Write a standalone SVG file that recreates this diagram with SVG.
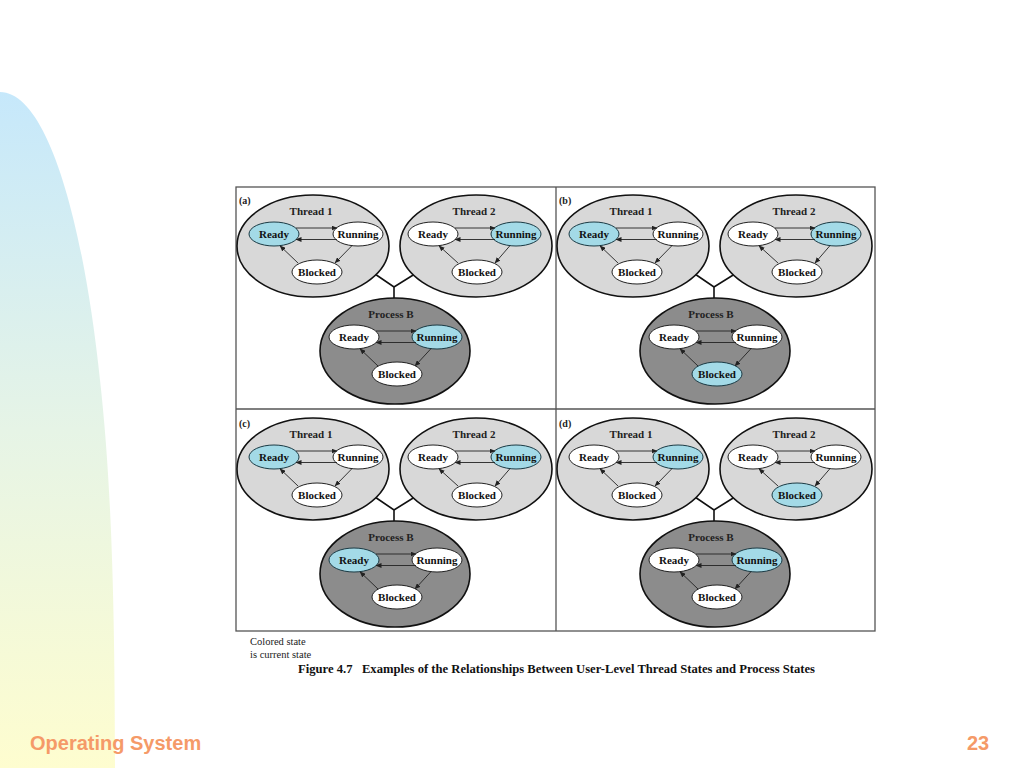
<svg xmlns="http://www.w3.org/2000/svg" width="1024" height="768" viewBox="0 0 1024 768">
<defs>
<linearGradient id="bg" x1="0" y1="0" x2="0" y2="1">
<stop offset="0" stop-color="#c6e8fb"/>
<stop offset="0.5" stop-color="#e6f4e6"/>
<stop offset="1" stop-color="#fefdcf"/>
</linearGradient>
<marker id="ah" markerWidth="6" markerHeight="5" refX="5.5" refY="2.5" orient="auto" markerUnits="userSpaceOnUse">
<path d="M0,0 L6,2.5 L0,5 Z" fill="#222"/>
</marker>
</defs>
<style>
.thread{fill:#d8d8d8;stroke:#111;stroke-width:1.6}
.proc{fill:#8c8c8c;stroke:#111;stroke-width:1.6}
.st{fill:#ffffff;stroke:#222;stroke-width:1}
.cur{fill:#a3dae7;stroke:#1a3a44;stroke-width:1}
.lbl{font-family:"Liberation Serif","Times New Roman",serif;font-weight:bold;font-size:11px;fill:#111;text-anchor:middle}
.ttl{font-family:"Liberation Serif","Times New Roman",serif;font-weight:bold;font-size:11px;fill:#222;text-anchor:middle}
.pl{font-family:"Liberation Serif","Times New Roman",serif;font-weight:bold;font-size:10px;fill:#222}
.arr{stroke:#222;stroke-width:0.9;fill:none;marker-end:url(#ah)}
.tie{stroke:#111;stroke-width:1.6;fill:none}
.frame{fill:none;stroke:#555;stroke-width:1.3}
.cap{font-family:"Liberation Serif","Times New Roman",serif;font-size:10.5px;fill:#222}
.fig{font-family:"Liberation Serif","Times New Roman",serif;font-weight:bold;font-size:11.5px;fill:#111}
.foot{font-family:"Liberation Sans",Arial,sans-serif;font-weight:bold;font-size:20px;fill:#f59a68}
</style>
<rect width="1024" height="768" fill="#ffffff"/>
<path d="M0,92 C45,92 82,210 100,380 C110,470 115,580 115,768 L0,768 Z" fill="url(#bg)"/>

<g id="frame">
<rect class="frame" x="236" y="187" width="639" height="444"/>
<line class="frame" x1="556" y1="187" x2="556" y2="631"/>
<line class="frame" x1="236" y1="409" x2="875" y2="409"/>
</g>

<!-- Panel (a) -->
<g id="panel-a">
<g id="a-connectors">
<path class="tie" d="M372,272 L394,287 L418,272 M394,287 L394,300"/>
</g>
<g id="a-thread1"><ellipse class="thread" cx="313" cy="246" rx="76" ry="51"/><text class="ttl" x="311" y="215">Thread 1</text></g>
<g id="a-thread2"><ellipse class="thread" cx="476" cy="246" rx="76" ry="51"/><text class="ttl" x="474" y="215">Thread 2</text></g>
<g id="a-process"><ellipse class="proc" cx="395" cy="351" rx="75" ry="53"/><text class="ttl" x="391" y="318">Process B</text></g>
<text class="pl" x="239" y="204">(a)</text>
<g id="a-t1-ready"><ellipse class="cur" cx="274" cy="234" rx="25" ry="12"/><text class="lbl" x="274" y="237.5">Ready</text></g>
<g id="a-t1-running"><ellipse class="st" cx="358" cy="234" rx="25" ry="12"/><text class="lbl" x="358" y="237.5">Running</text></g>
<g id="a-t1-blocked"><ellipse class="st" cx="317" cy="272" rx="25" ry="12"/><text class="lbl" x="317" y="275.5">Blocked</text></g>
<g id="a-t2-ready"><ellipse class="st" cx="433" cy="234" rx="25" ry="12"/><text class="lbl" x="433" y="237.5">Ready</text></g>
<g id="a-t2-running"><ellipse class="cur" cx="516" cy="234" rx="25" ry="12"/><text class="lbl" x="516" y="237.5">Running</text></g>
<g id="a-t2-blocked"><ellipse class="st" cx="477" cy="272" rx="25" ry="12"/><text class="lbl" x="477" y="275.5">Blocked</text></g>
<g id="a-p-ready"><ellipse class="st" cx="354" cy="337" rx="25" ry="12"/><text class="lbl" x="354" y="340.5">Ready</text></g>
<g id="a-p-running"><ellipse class="cur" cx="437" cy="337" rx="25" ry="12"/><text class="lbl" x="437" y="340.5">Running</text></g>
<g id="a-p-blocked"><ellipse class="st" cx="397" cy="374" rx="25" ry="12"/><text class="lbl" x="397" y="377.5">Blocked</text></g>
<g id="a-arrows">
<line class="arr" x1="296" y1="228" x2="337" y2="228"/>
<line class="arr" x1="337" y1="239.5" x2="296" y2="239.5"/>
<line class="arr" x1="352" y1="245.6" x2="335" y2="263"/>
<line class="arr" x1="298" y1="263" x2="280" y2="245.8"/>
<line class="arr" x1="455" y1="228" x2="495" y2="228"/>
<line class="arr" x1="495" y1="239.5" x2="455" y2="239.5"/>
<line class="arr" x1="510" y1="245.6" x2="495" y2="263"/>
<line class="arr" x1="458" y1="263" x2="439" y2="245.8"/>
<line class="arr" x1="376" y1="331" x2="416" y2="331"/>
<line class="arr" x1="416" y1="342.5" x2="376" y2="342.5"/>
<line class="arr" x1="431" y1="348.6" x2="415" y2="366"/>
<line class="arr" x1="378" y1="366" x2="360" y2="348.8"/>
</g>
</g>

<!-- Panel (b) -->
<g id="panel-b" transform="translate(320,0)">
<g id="b-connectors">
<path class="tie" d="M372,272 L394,287 L418,272 M394,287 L394,300"/>
</g>
<g id="b-thread1"><ellipse class="thread" cx="313" cy="246" rx="76" ry="51"/><text class="ttl" x="311" y="215">Thread 1</text></g>
<g id="b-thread2"><ellipse class="thread" cx="476" cy="246" rx="76" ry="51"/><text class="ttl" x="474" y="215">Thread 2</text></g>
<g id="b-process"><ellipse class="proc" cx="395" cy="351" rx="75" ry="53"/><text class="ttl" x="391" y="318">Process B</text></g>
<text class="pl" x="239" y="204">(b)</text>
<g id="b-t1-ready"><ellipse class="cur" cx="274" cy="234" rx="25" ry="12"/><text class="lbl" x="274" y="237.5">Ready</text></g>
<g id="b-t1-running"><ellipse class="st" cx="358" cy="234" rx="25" ry="12"/><text class="lbl" x="358" y="237.5">Running</text></g>
<g id="b-t1-blocked"><ellipse class="st" cx="317" cy="272" rx="25" ry="12"/><text class="lbl" x="317" y="275.5">Blocked</text></g>
<g id="b-t2-ready"><ellipse class="st" cx="433" cy="234" rx="25" ry="12"/><text class="lbl" x="433" y="237.5">Ready</text></g>
<g id="b-t2-running"><ellipse class="cur" cx="516" cy="234" rx="25" ry="12"/><text class="lbl" x="516" y="237.5">Running</text></g>
<g id="b-t2-blocked"><ellipse class="st" cx="477" cy="272" rx="25" ry="12"/><text class="lbl" x="477" y="275.5">Blocked</text></g>
<g id="b-p-ready"><ellipse class="st" cx="354" cy="337" rx="25" ry="12"/><text class="lbl" x="354" y="340.5">Ready</text></g>
<g id="b-p-running"><ellipse class="st" cx="437" cy="337" rx="25" ry="12"/><text class="lbl" x="437" y="340.5">Running</text></g>
<g id="b-p-blocked"><ellipse class="cur" cx="397" cy="374" rx="25" ry="12"/><text class="lbl" x="397" y="377.5">Blocked</text></g>
<g id="b-arrows">
<line class="arr" x1="296" y1="228" x2="337" y2="228"/>
<line class="arr" x1="337" y1="239.5" x2="296" y2="239.5"/>
<line class="arr" x1="352" y1="245.6" x2="335" y2="263"/>
<line class="arr" x1="298" y1="263" x2="280" y2="245.8"/>
<line class="arr" x1="455" y1="228" x2="495" y2="228"/>
<line class="arr" x1="495" y1="239.5" x2="455" y2="239.5"/>
<line class="arr" x1="510" y1="245.6" x2="495" y2="263"/>
<line class="arr" x1="458" y1="263" x2="439" y2="245.8"/>
<line class="arr" x1="376" y1="331" x2="416" y2="331"/>
<line class="arr" x1="416" y1="342.5" x2="376" y2="342.5"/>
<line class="arr" x1="431" y1="348.6" x2="415" y2="366"/>
<line class="arr" x1="378" y1="366" x2="360" y2="348.8"/>
</g>
</g>

<!-- Panel (c) -->
<g id="panel-c" transform="translate(0,223)">
<g id="c-connectors">
<path class="tie" d="M372,272 L394,287 L418,272 M394,287 L394,300"/>
</g>
<g id="c-thread1"><ellipse class="thread" cx="313" cy="246" rx="76" ry="51"/><text class="ttl" x="311" y="215">Thread 1</text></g>
<g id="c-thread2"><ellipse class="thread" cx="476" cy="246" rx="76" ry="51"/><text class="ttl" x="474" y="215">Thread 2</text></g>
<g id="c-process"><ellipse class="proc" cx="395" cy="351" rx="75" ry="53"/><text class="ttl" x="391" y="318">Process B</text></g>
<text class="pl" x="239" y="204">(c)</text>
<g id="c-t1-ready"><ellipse class="cur" cx="274" cy="234" rx="25" ry="12"/><text class="lbl" x="274" y="237.5">Ready</text></g>
<g id="c-t1-running"><ellipse class="st" cx="358" cy="234" rx="25" ry="12"/><text class="lbl" x="358" y="237.5">Running</text></g>
<g id="c-t1-blocked"><ellipse class="st" cx="317" cy="272" rx="25" ry="12"/><text class="lbl" x="317" y="275.5">Blocked</text></g>
<g id="c-t2-ready"><ellipse class="st" cx="433" cy="234" rx="25" ry="12"/><text class="lbl" x="433" y="237.5">Ready</text></g>
<g id="c-t2-running"><ellipse class="cur" cx="516" cy="234" rx="25" ry="12"/><text class="lbl" x="516" y="237.5">Running</text></g>
<g id="c-t2-blocked"><ellipse class="st" cx="477" cy="272" rx="25" ry="12"/><text class="lbl" x="477" y="275.5">Blocked</text></g>
<g id="c-p-ready"><ellipse class="cur" cx="354" cy="337" rx="25" ry="12"/><text class="lbl" x="354" y="340.5">Ready</text></g>
<g id="c-p-running"><ellipse class="st" cx="437" cy="337" rx="25" ry="12"/><text class="lbl" x="437" y="340.5">Running</text></g>
<g id="c-p-blocked"><ellipse class="st" cx="397" cy="374" rx="25" ry="12"/><text class="lbl" x="397" y="377.5">Blocked</text></g>
<g id="c-arrows">
<line class="arr" x1="296" y1="228" x2="337" y2="228"/>
<line class="arr" x1="337" y1="239.5" x2="296" y2="239.5"/>
<line class="arr" x1="352" y1="245.6" x2="335" y2="263"/>
<line class="arr" x1="298" y1="263" x2="280" y2="245.8"/>
<line class="arr" x1="455" y1="228" x2="495" y2="228"/>
<line class="arr" x1="495" y1="239.5" x2="455" y2="239.5"/>
<line class="arr" x1="510" y1="245.6" x2="495" y2="263"/>
<line class="arr" x1="458" y1="263" x2="439" y2="245.8"/>
<line class="arr" x1="376" y1="331" x2="416" y2="331"/>
<line class="arr" x1="416" y1="342.5" x2="376" y2="342.5"/>
<line class="arr" x1="431" y1="348.6" x2="415" y2="366"/>
<line class="arr" x1="378" y1="366" x2="360" y2="348.8"/>
</g>
</g>

<!-- Panel (d) -->
<g id="panel-d" transform="translate(320,223)">
<g id="d-connectors">
<path class="tie" d="M372,272 L394,287 L418,272 M394,287 L394,300"/>
</g>
<g id="d-thread1"><ellipse class="thread" cx="313" cy="246" rx="76" ry="51"/><text class="ttl" x="311" y="215">Thread 1</text></g>
<g id="d-thread2"><ellipse class="thread" cx="476" cy="246" rx="76" ry="51"/><text class="ttl" x="474" y="215">Thread 2</text></g>
<g id="d-process"><ellipse class="proc" cx="395" cy="351" rx="75" ry="53"/><text class="ttl" x="391" y="318">Process B</text></g>
<text class="pl" x="239" y="204">(d)</text>
<g id="d-t1-ready"><ellipse class="st" cx="274" cy="234" rx="25" ry="12"/><text class="lbl" x="274" y="237.5">Ready</text></g>
<g id="d-t1-running"><ellipse class="cur" cx="358" cy="234" rx="25" ry="12"/><text class="lbl" x="358" y="237.5">Running</text></g>
<g id="d-t1-blocked"><ellipse class="st" cx="317" cy="272" rx="25" ry="12"/><text class="lbl" x="317" y="275.5">Blocked</text></g>
<g id="d-t2-ready"><ellipse class="st" cx="433" cy="234" rx="25" ry="12"/><text class="lbl" x="433" y="237.5">Ready</text></g>
<g id="d-t2-running"><ellipse class="st" cx="516" cy="234" rx="25" ry="12"/><text class="lbl" x="516" y="237.5">Running</text></g>
<g id="d-t2-blocked"><ellipse class="cur" cx="477" cy="272" rx="25" ry="12"/><text class="lbl" x="477" y="275.5">Blocked</text></g>
<g id="d-p-ready"><ellipse class="st" cx="354" cy="337" rx="25" ry="12"/><text class="lbl" x="354" y="340.5">Ready</text></g>
<g id="d-p-running"><ellipse class="cur" cx="437" cy="337" rx="25" ry="12"/><text class="lbl" x="437" y="340.5">Running</text></g>
<g id="d-p-blocked"><ellipse class="st" cx="397" cy="374" rx="25" ry="12"/><text class="lbl" x="397" y="377.5">Blocked</text></g>
<g id="d-arrows">
<line class="arr" x1="296" y1="228" x2="337" y2="228"/>
<line class="arr" x1="337" y1="239.5" x2="296" y2="239.5"/>
<line class="arr" x1="352" y1="245.6" x2="335" y2="263"/>
<line class="arr" x1="298" y1="263" x2="280" y2="245.8"/>
<line class="arr" x1="455" y1="228" x2="495" y2="228"/>
<line class="arr" x1="495" y1="239.5" x2="455" y2="239.5"/>
<line class="arr" x1="510" y1="245.6" x2="495" y2="263"/>
<line class="arr" x1="458" y1="263" x2="439" y2="245.8"/>
<line class="arr" x1="376" y1="331" x2="416" y2="331"/>
<line class="arr" x1="416" y1="342.5" x2="376" y2="342.5"/>
<line class="arr" x1="431" y1="348.6" x2="415" y2="366"/>
<line class="arr" x1="378" y1="366" x2="360" y2="348.8"/>
</g>
</g>

<g id="caption">
<text class="cap" x="250" y="645">Colored state</text>
<text class="cap" x="250" y="658">is current state</text>
<text class="fig" x="298" y="673" textLength="517" lengthAdjust="spacingAndGlyphs" xml:space="preserve">Figure 4.7   Examples of the Relationships Between User-Level Thread States and Process States</text>
</g>
<text class="foot" x="30" y="750">Operating System</text>
<text class="foot" x="967" y="750">23</text>
</svg>
